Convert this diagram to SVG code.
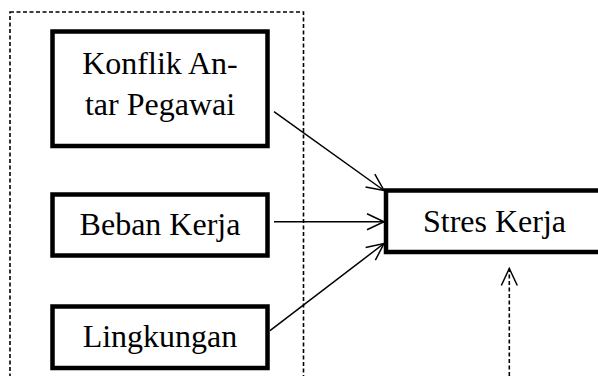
<svg xmlns="http://www.w3.org/2000/svg" width="598" height="376" viewBox="0 0 598 376">
<style>
.box{fill:#fff;stroke:#000;stroke-width:4.5}
.t{font-family:"Liberation Serif","Times New Roman",serif;font-size:32px;fill:#000;text-anchor:middle}
.c{fill:none;stroke:#000;stroke-width:1.5}
.d{fill:none;stroke:#000;stroke-width:1.6;stroke-dasharray:4 2.5}
</style>
<defs>
<marker id="ah" viewBox="0 0 20 20" refX="18" refY="10" markerWidth="20" markerHeight="20" markerUnits="userSpaceOnUse" orient="auto">
<path d="M1,2 L18,10 L1,18" fill="none" stroke="#000" stroke-width="1.5"/>
</marker>
</defs>
<rect x="10" y="12" width="293.5" height="380" class="d"/>
<g id="konflik">
<rect x="52.5" y="31.5" width="215" height="114.5" class="box"/>
<text x="160" y="74" class="t">Konflik An-</text>
<text x="160" y="115" class="t">tar Pegawai</text>
</g>
<g id="beban">
<rect x="52.5" y="194.5" width="215" height="61" class="box"/>
<text x="160" y="235" class="t">Beban Kerja</text>
</g>
<g id="lingkungan">
<rect x="52.5" y="306.5" width="215" height="61.5" class="box"/>
<text x="160" y="346.5" class="t">Lingkungan</text>
</g>
<g id="stres">
<rect x="386" y="190.5" width="220" height="61.5" class="box"/>
<text x="494.5" y="231.5" class="t">Stres Kerja</text>
</g>
<g id="connectors">
<line x1="274" y1="111.7" x2="384" y2="190.5" class="c" marker-end="url(#ah)"/>
<line x1="274" y1="221.7" x2="384" y2="221.7" class="c" marker-end="url(#ah)"/>
<line x1="270" y1="330.7" x2="384" y2="243.5" class="c" marker-end="url(#ah)"/>
<line x1="509.3" y1="376" x2="509.3" y2="268.5" class="d" marker-end="url(#ah)"/>
</g>
</svg>
